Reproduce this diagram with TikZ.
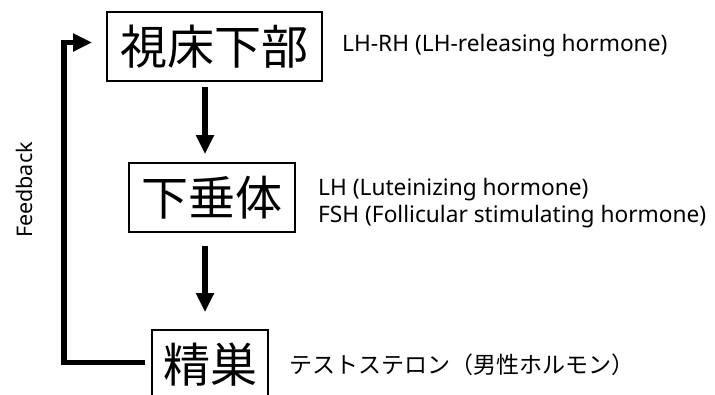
\documentclass[tikz,border=0pt]{standalone}
\usepackage{fontspec}
\setmainfont{Noto Sans}
\newfontfamily\jpfont{Noto Sans CJK JP}
\usetikzlibrary{arrows.meta}
\tikzset{
	organ/.style={draw, line width=1.6pt, inner sep=0pt, font=\jpfont\fontsize{47}{50}\selectfont},
	hormone/.style={anchor=base west, inner sep=0pt, font=\fontsize{22.7}{27}\selectfont},
	flow/.style={line width=5.5pt, -{Triangle[width=17pt,length=19pt]}}
}
\begin{document}
\begin{tikzpicture}[x=1pt,y=-1pt]
	\useasboundingbox (0,0) rectangle (715,394);
	\path (205,0) coordinate (axis)
	(64,0) coordinate (fb);
	\node[organ, minimum width=215pt, minimum height=69pt] (hypo) at (214.5,46.5) {視床下部};
	\node[organ, minimum width=166pt, minimum height=69pt] (pit) at (212,197.5) {下垂体};
	\node[organ, minimum width=116pt, minimum height=69pt] (testis) at (210,364.5) {精巣};
	\node[hormone] (lhrh) at (342,51) {LH-RH (LH-releasing hormone)};
	\node[hormone] (lh) at (318,195) {LH (Luteinizing hormone)};
	\node[hormone] (fsh) at (318,222) {FSH (Follicular stimulating hormone)};
	\node[anchor=west, inner sep=0pt, font=\jpfont\fontsize{23}{26}\selectfont] (testo) at (289,365) {テストステロン（男性ホルモン）};
	\node[rotate=90, font=\fontsize{21.5}{26}\selectfont] (fblabel) at (24,190) {Feedback};
	\draw[flow, shorten <=5pt, shorten >=8pt] (hypo.south -| axis) -- (pit.north -| axis);
	\draw[flow, shorten <=13pt, shorten >=17pt] (pit.south -| axis) -- (testis.north -| axis);
	\draw[flow, shorten >=14pt] ([xshift=-6pt,yshift=2pt]testis.west) -- ([yshift=2pt]testis.west -| fb) -- ([yshift=4pt]hypo.west -| fb) -- ([yshift=4pt]hypo.west);
\end{tikzpicture}
\end{document}
